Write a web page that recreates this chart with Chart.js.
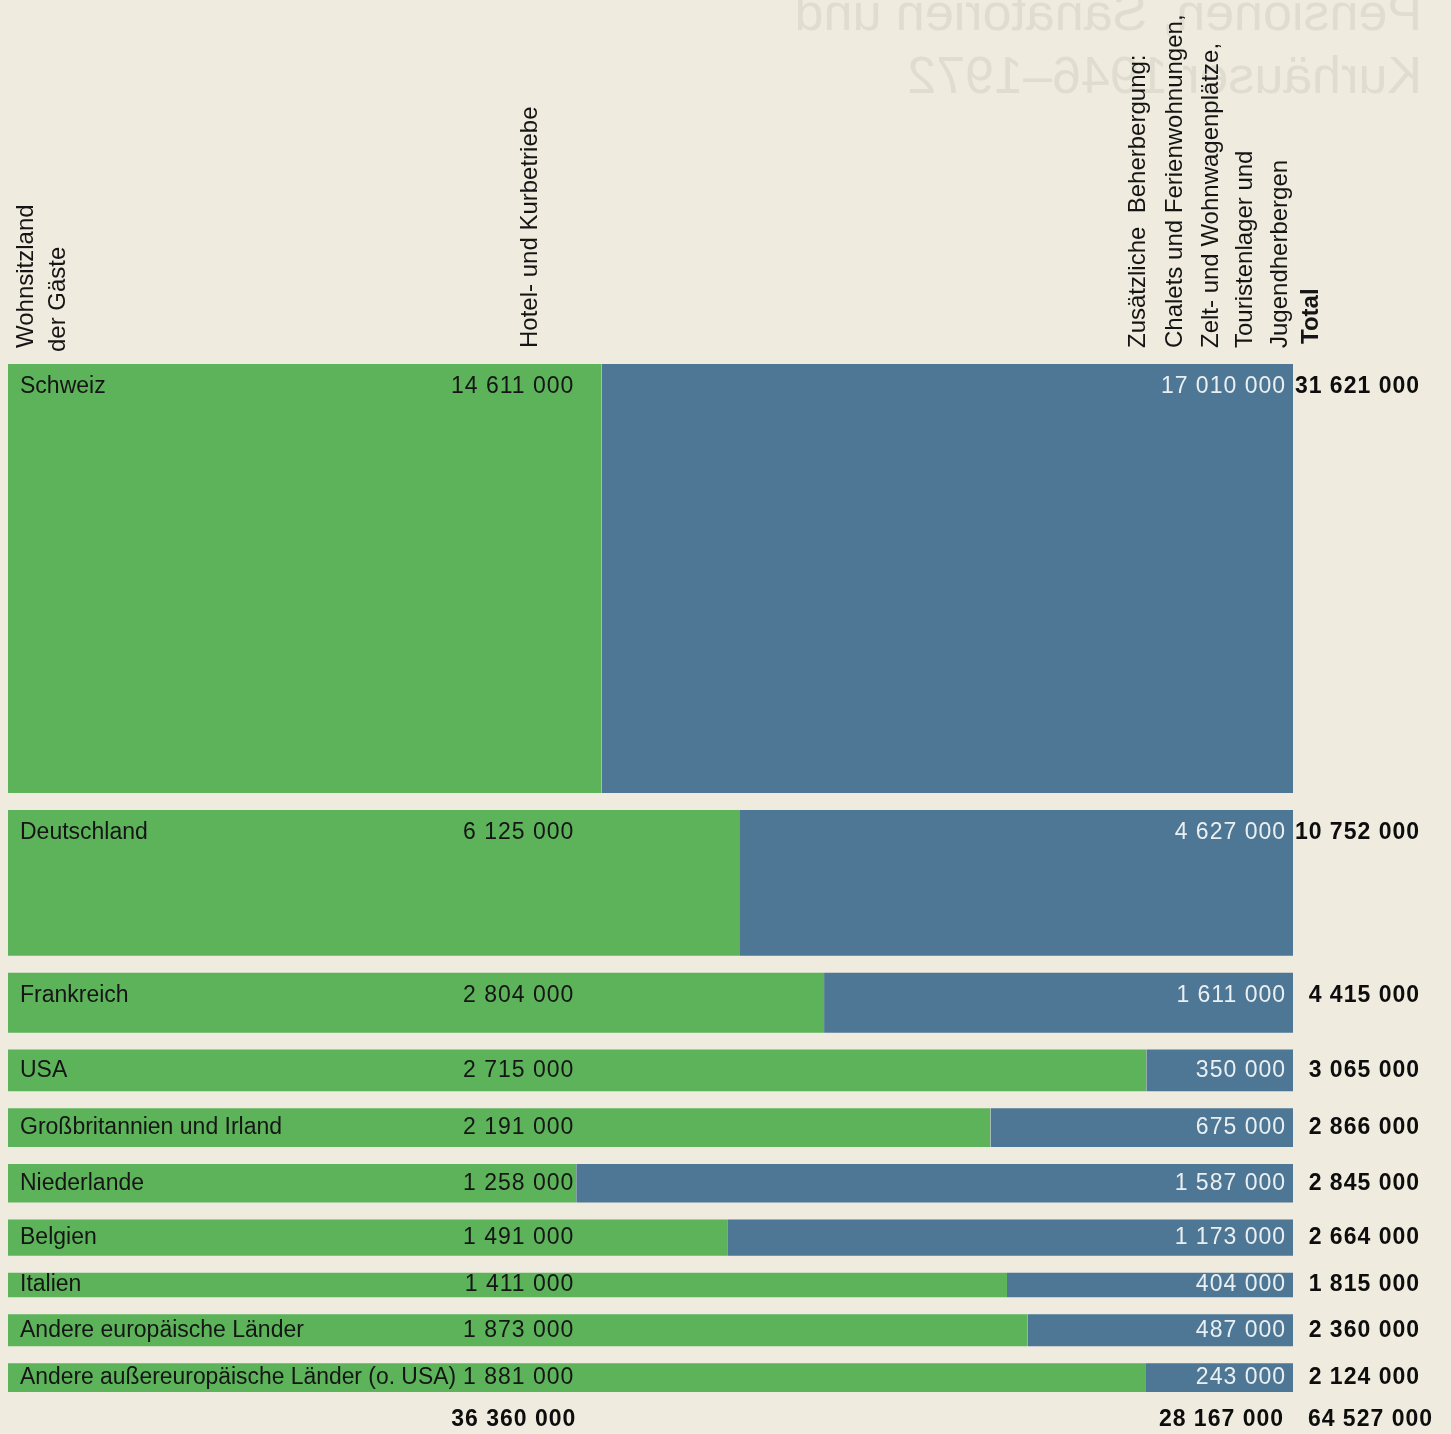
<!DOCTYPE html>
<html>
<head>
<meta charset="utf-8">
<script src="https://cdn.jsdelivr.net/npm/chart.js@4.4.0/dist/chart.umd.min.js"></script>
<style>
  html, body { margin: 0; padding: 0; background: #efebdf; }
  #wrap { width: 1451px; height: 1434px; }
</style>
</head>
<body>
<div id="wrap"><canvas id="myChart" width="1451" height="1434"></canvas></div>
<script>
// Logiernächte nach Wohnsitzland, in Tausend
const countries = ['Schweiz', 'Deutschland', 'Frankreich', 'USA', 'Großbritannien und Irland',
    'Niederlande', 'Belgien', 'Italien', 'Andere europäische Länder', 'Andere außereuropäische Länder (o. USA)'];
const hotel = [14611, 6125, 2804, 2715, 2191, 1258, 1491, 1411, 1873, 1881];
const extra = [17010, 4627, 1611, 350, 675, 1587, 1173, 404, 487, 243];
const totals = [31621, 10752, 4415, 3065, 2866, 2845, 2664, 1815, 2360, 2124];
const columnTotals = [36360, 28167, 64527];

const GREEN = '#5db35a';
const BLUE = '#4e7695';
const GAP = 1250; // space between rows, in value units

// row start positions on the y scale
const rowStart = [];
let acc = 0;
totals.forEach((t, i) => { rowStart.push(acc); acc += t + GAP; });
const yMax = acc - GAP;

function fmt(n) {
    return String(n * 1000).replace(/\B(?=(\d{3})+(?!\d))/g, ' ');
}

// each cell is a horizontal line filled down to the row bottom
const datasets = [];
countries.forEach((c, i) => {
    const pct = hotel[i] / totals[i] * 100;
    const top = rowStart[i];
    const bottom = rowStart[i] + totals[i];
    datasets.push({
        label: c + ' Hotel',
        data: [{ x: 0, y: top }, { x: pct, y: top }],
        backgroundColor: GREEN,
        borderColor: 'transparent',
        borderWidth: 0,
        pointRadius: 0,
        fill: { value: bottom }
    });
    datasets.push({
        label: c + ' Zusätzlich',
        data: [{ x: pct, y: top }, { x: 100, y: top }],
        backgroundColor: BLUE,
        borderColor: 'transparent',
        borderWidth: 0,
        pointRadius: 0,
        fill: { value: bottom }
    });
});

const FONT = '"Liberation Sans", Arial, Helvetica, sans-serif';

function vtext(ctx, text, cx, by, bold) {
    ctx.save();
    ctx.translate(cx, by);
    ctx.rotate(-Math.PI / 2);
    ctx.font = (bold ? 'bold ' : '') + '24px ' + FONT;
    ctx.textAlign = 'left';
    ctx.textBaseline = 'middle';
    ctx.fillText(text, 0, 0);
    ctx.restore();
}

function num(ctx, text, xr, y) {
    // wider figure spacing like the print, right aligned
    ctx.letterSpacing = '1px';
    ctx.fillText(text, xr + 1, y);
    ctx.letterSpacing = '0px';
}

const labelPlugin = {
    id: 'labels',
    beforeDraw(chart) {
        // faint mirrored print-through from the facing page
        const ctx = chart.ctx;
        ctx.save();
        ctx.fillStyle = '#dfdcd0';
        ctx.font = '52px ' + FONT;
        ctx.textAlign = 'left';
        ctx.textBaseline = 'alphabetic';
        ctx.translate(1422, 0);
        ctx.scale(-1, 1);
        ctx.fillText('Pensionen, Sanatorien und', 0, 30);
        ctx.fillText('Kurhäuser 1946–1972', 0, 93);
        ctx.restore();
    },
    afterDatasetsDraw(chart) {
        const { ctx, chartArea, scales: { x, y } } = chart;
        ctx.save();
        ctx.textBaseline = 'middle';
        countries.forEach((name, i) => {
            const top = y.getPixelForValue(rowStart[i]);
            const bot = y.getPixelForValue(rowStart[i] + totals[i]);
            const ly = Math.min(top + 23, (top + bot) / 2);
            ctx.font = '23px ' + FONT;
            ctx.fillStyle = '#151515';
            ctx.textAlign = 'left';
            ctx.fillText(name, chartArea.left + 12, ly, 436);
            ctx.textAlign = 'right';
            num(ctx, fmt(hotel[i]), x.getPixelForValue(44), ly);
            ctx.fillStyle = '#eaf0f2';
            num(ctx, fmt(extra[i]), chartArea.right - 8, ly);
            ctx.fillStyle = '#0d0d0d';
            ctx.font = 'bold 23px ' + FONT;
            num(ctx, fmt(totals[i]), chartArea.right + 126, ly);
        });

        // column totals below the chart
        const by = chartArea.bottom + 28;
        ctx.font = 'bold 23px ' + FONT;
        ctx.fillStyle = '#0d0d0d';
        ctx.textAlign = 'right';
        num(ctx, fmt(columnTotals[0]), x.getPixelForValue(44) + 2, by);
        num(ctx, fmt(columnTotals[1]), chartArea.right - 10, by);
        num(ctx, fmt(columnTotals[2]), chartArea.right + 139, by);

        // column headers, set vertically
        ctx.fillStyle = '#151515';
        const hy = chartArea.top - 16;
        vtext(ctx, 'Wohnsitzland', chartArea.left + 18, hy);
        vtext(ctx, 'der Gäste', chartArea.left + 50, hy + 4);
        vtext(ctx, 'Hotel- und Kurbetriebe', chartArea.left + 522, hy);
        vtext(ctx, 'Zusätzliche  Beherbergung:', chartArea.right - 155, hy);
        vtext(ctx, 'Chalets und Ferienwohnungen,', chartArea.right - 118, hy);
        vtext(ctx, 'Zelt- und Wohnwagenplätze,', chartArea.right - 82, hy);
        vtext(ctx, 'Touristenlager und', chartArea.right - 48, hy);
        vtext(ctx, 'Jugendherbergen', chartArea.right - 13, hy);
        vtext(ctx, 'Total', chartArea.right + 18, hy - 4, true);
        ctx.restore();
    }
};

const config = {
    type: 'line',
    data: { datasets },
    options: {
        responsive: false,
        animation: false,
        events: [],
        layout: { padding: { left: 8, right: 158, top: 364, bottom: 42 } },
        scales: {
            x: { type: 'linear', min: 0, max: 100, display: false },
            y: { type: 'linear', min: 0, max: yMax, reverse: true, display: false }
        },
        plugins: {
            legend: { display: false },
            tooltip: { enabled: false }
        }
    },
    plugins: [labelPlugin]
};

const myChart = new Chart(document.getElementById('myChart'), config);
</script>
</body>
</html>
